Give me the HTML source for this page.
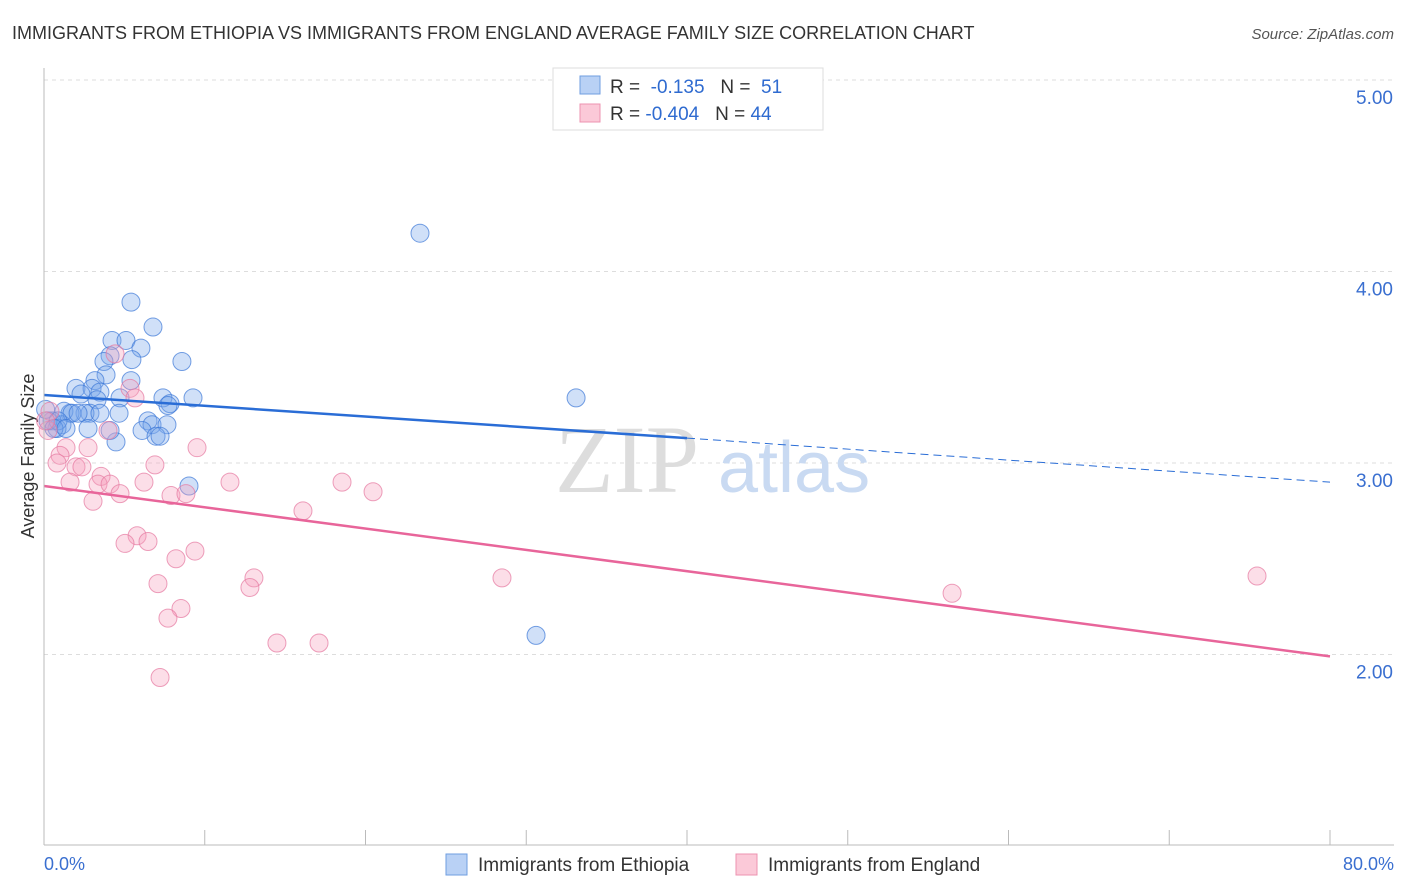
<!DOCTYPE html>
<html><head><meta charset="utf-8"><style>
body{margin:0;background:#fff;font-family:"Liberation Sans",sans-serif;}
svg{display:block}
</style></head><body>
<svg id="chart" width="1406" height="892">
<text x="12" y="39" font-size="18" fill="#333">IMMIGRANTS FROM ETHIOPIA VS IMMIGRANTS FROM ENGLAND AVERAGE FAMILY SIZE CORRELATION CHART</text>
<text x="1394" y="39" font-size="15" fill="#555" text-anchor="end" font-style="italic">Source: ZipAtlas.com</text>
<text x="34" y="456" font-size="18" fill="#333" text-anchor="middle" transform="rotate(-90 34 456)">Average Family Size</text>
<g id="grid"></g>
<text x="555" y="492" font-size="96" fill="#ddd" font-family="Liberation Serif,serif">ZIP</text>
<text x="718" y="492" font-size="72" fill="#c9daf2">atlas</text>
<g id="marks"></g>
<g id="lines"></g>
<line x1="44" y1="68" x2="44" y2="845" stroke="#bbb"/>
<line x1="44" y1="845" x2="1394" y2="845" stroke="#bbb"/>
<text x="44" y="870" font-size="18" fill="#3a6fd0">0.0%</text>
<text x="1394" y="870" font-size="18" fill="#3a6fd0" text-anchor="end">80.0%</text>
<g>
<rect x="553" y="68" width="270" height="62" fill="#fff" stroke="#ddd"/>
<rect x="580" y="76" width="20" height="18" fill="#b9d1f5" stroke="#6f9ee0"/>
<rect x="580" y="104" width="20" height="18" fill="#fbc9d8" stroke="#ec93b0"/>
<text x="610" y="93" font-size="19" fill="#333">R = <tspan fill="#2f6bd0">&#160;-0.135</tspan>&#160;&#160;&#160;N = <tspan fill="#2f6bd0">&#160;51</tspan></text>
<text x="610" y="120" font-size="19" fill="#333">R = <tspan fill="#2f6bd0">-0.404</tspan>&#160;&#160;&#160;N = <tspan fill="#2f6bd0">44</tspan></text>
</g>
<g>
<rect x="446" y="854" width="21" height="21" fill="#b9d1f5" stroke="#6f9ee0"/>
<text x="478" y="871" font-size="19" fill="#333">Immigrants from Ethiopia</text>
<rect x="736" y="854" width="21" height="21" fill="#fbc9d8" stroke="#ec93b0"/>
<text x="768" y="871" font-size="19" fill="#333">Immigrants from England</text>
</g>
</svg>
<script>
const yTicks=[2,3,4,5];
const yTickLabels=["2.00","3.00","4.00","5.00"];
const xTicks=[0,10,20,30,40,50,60,70,80];
const ethX=[5.41,6.78,4.23,5.10,6.03,4.11,5.47,8.58,3.73,3.86,5.41,3.17,1.99,2.99,3.48,2.30,4.73,3.30,7.40,9.27,7.84,7.71,4.67,2.86,2.55,1.62,1.24,1.12,0.50,0.81,2.74,6.47,6.72,7.65,6.10,6.97,7.22,4.48,4.11,0.25,0.1,9.02,23.39,33.10,30.61,1.74,0.87,0.62,3.48,2.12,1.37];
const ethY=[3.84,3.71,3.64,3.64,3.60,3.56,3.54,3.53,3.53,3.46,3.43,3.43,3.39,3.39,3.37,3.36,3.34,3.33,3.34,3.34,3.31,3.30,3.26,3.26,3.26,3.26,3.27,3.20,3.22,3.18,3.18,3.22,3.20,3.20,3.17,3.14,3.14,3.11,3.17,3.22,3.28,2.88,4.20,3.34,2.10,3.26,3.22,3.18,3.26,3.26,3.18];
const engX=[4.42,5.35,5.66,3.98,0.37,0.25,1.37,2.74,9.52,1.00,0.81,1.99,2.36,6.90,3.55,1.62,3.36,4.11,6.22,11.57,18.54,20.47,4.73,7.90,8.83,3.05,16.11,5.79,5.04,6.47,9.39,8.21,13.06,7.09,12.81,8.52,7.71,14.49,17.11,7.22,28.49,56.49,75.46,0.1];
const engY=[3.57,3.39,3.34,3.17,3.27,3.17,3.08,3.08,3.08,3.04,3.00,2.98,2.98,2.99,2.93,2.90,2.89,2.89,2.90,2.90,2.90,2.85,2.84,2.83,2.84,2.80,2.75,2.62,2.58,2.59,2.54,2.50,2.40,2.37,2.35,2.24,2.19,2.06,2.06,1.88,2.40,2.32,2.41,3.22];
const ethTrend=[3.355,3.13,2.90]; // at x=0,40,80
const engTrend=[2.88,1.99]; // at x=0,80
const NS='http://www.w3.org/2000/svg';
const sx=v=>44+v*(1286/80);
const sy=v=>463-(v-3)*191.5;
function mk(t,a,p){const e=document.createElementNS(NS,t);for(const k in a)e.setAttribute(k,a[k]);p.appendChild(e);return e;}
const grid=document.getElementById('grid');
yTicks.forEach((t,i)=>{
 const l=mk('line',{x1:44,x2:1394,y1:sy(t),y2:sy(t),stroke:'#ddd','stroke-dasharray':'4,4'},grid);
 
 
 const tx=mk('text',{x:1393,y:sy(t)+24,'font-size':19,fill:'#3a6fd0','text-anchor':'end'},grid);
 tx.textContent=yTickLabels[i];
 
 
});
xTicks.forEach(t=>{
 const l=mk('line',{x1:sx(t),x2:sx(t),y1:830,y2:845,stroke:'#bbb'},grid);
 
 
});
const marks=document.getElementById('marks');
ethX.forEach((x,i)=>{
 const c=mk('circle',{cx:sx(x),cy:sy(ethY[i]),r:9,fill:'rgba(120,165,235,0.35)',stroke:'rgba(60,120,215,0.7)','stroke-width':1},marks);
 
 
});
engX.forEach((x,i)=>{
 const c=mk('circle',{cx:sx(x),cy:sy(engY[i]),r:9,fill:'rgba(245,160,190,0.35)',stroke:'rgba(230,120,160,0.7)','stroke-width':1},marks);
 
 
});
const lines=document.getElementById('lines');
let a=mk('line',{x1:sx(0),y1:sy(ethTrend[0]),x2:sx(40),y2:sy(ethTrend[1]),stroke:'#2a6dd6','stroke-width':2.5},lines);


a=mk('line',{x1:sx(40),y1:sy(ethTrend[1]),x2:sx(80),y2:sy(ethTrend[2]),stroke:'#2a6dd6','stroke-width':1,'stroke-dasharray':'8,5'},lines);


a=mk('line',{x1:sx(0),y1:sy(engTrend[0]),x2:sx(80),y2:sy(engTrend[1]),stroke:'#e8659a','stroke-width':2.5},lines);


</script>
</body></html>
